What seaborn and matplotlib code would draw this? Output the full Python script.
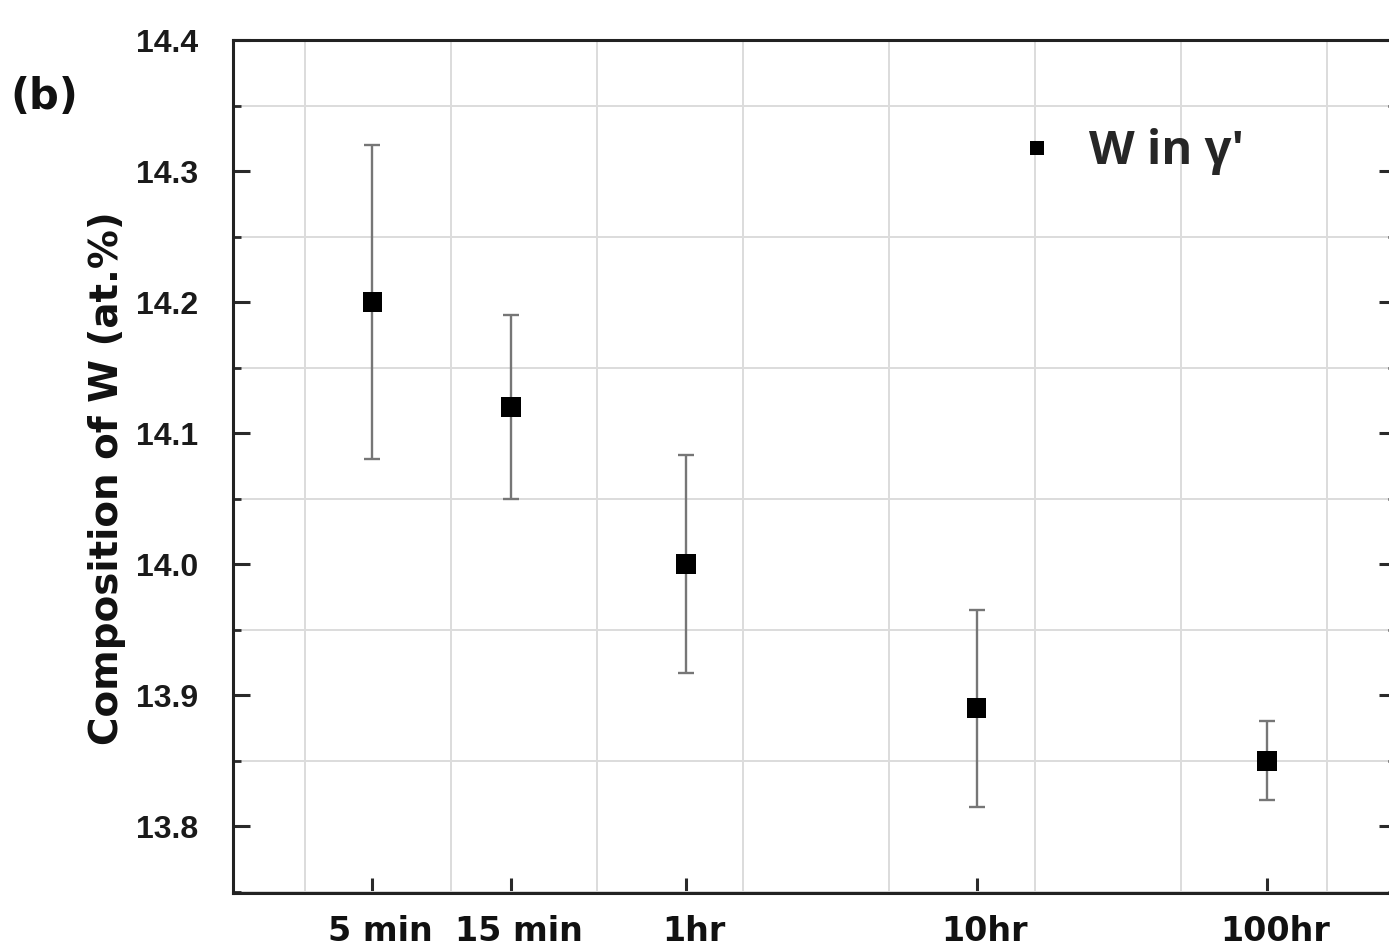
import numpy as np
import pandas as pd
import matplotlib
matplotlib.use("Agg")
import matplotlib.pyplot as plt
import matplotlib.transforms as mtrans
import seaborn as sns
from matplotlib.ticker import FixedLocator, MultipleLocator, NullFormatter

# ---- data ----
time_labels = ["5 min", "15 min", "1hr", "10hr", "100hr"]
time_minutes = [5, 15, 60, 600, 6000]
w_composition = [14.20, 14.12, 14.00, 13.89, 13.85]
w_error = [0.12, 0.07, 0.083, 0.075, 0.03]
y_tick_values = [13.8, 13.9, 14.0, 14.1, 14.2, 14.3, 14.4]
y_tick_labels = ["13.8", "13.9", "14.0", "14.1", "14.2", "14.3", "14.4"]
series_label = "W in \u03b3'"
y_label = "Composition of W (at.%)"
panel_label = "(b)"

df = pd.DataFrame({"time": time_minutes, "W": w_composition,
                   "err": w_error, "series": series_label})

sns.set_style("white")
plt.rcParams["font.family"] = ["Liberation Sans", "DejaVu Sans"]

W, H = 1389, 950
fig = plt.figure(figsize=(W / 100, H / 100), dpi=100)
right_px = 1396
ax = fig.add_axes([233 / W, 1 - 893 / H, (right_px - 233) / W, (893 - 40) / H])

ax.set_xscale("log")
px_per_dec = 290.5
ax.set_xlim(10 ** (np.log10(60) - (686 - 233) / px_per_dec),
            10 ** (np.log10(60) + (right_px - 686) / px_per_dec))
ax.set_ylim(13.749, 14.4)

# error bars + markers
ax.errorbar(df["time"], df["W"], yerr=df["err"], fmt="none",
            ecolor="#767676", elinewidth=1.7, capsize=6, capthick=1.7, zorder=2)
sns.scatterplot(data=df, x="time", y="W", hue="series", palette=["black"],
                marker="s", s=205, linewidth=0, ax=ax, zorder=3)

# ticks
ax.xaxis.set_major_locator(FixedLocator(time_minutes))
ax.set_xticklabels(time_labels)
ax.xaxis.set_minor_locator(FixedLocator(10 ** (0.4664 + 0.5025 * np.arange(8))))
ax.xaxis.set_minor_formatter(NullFormatter())
ax.yaxis.set_minor_locator(MultipleLocator(0.05))
ax.set_yticks(y_tick_values)
ax.set_yticklabels(y_tick_labels)

ax.tick_params(axis="x", which="major", direction="in", length=11, width=2.2,
               color="#2a2a2a", bottom=True, top=False, pad=16)
ax.tick_params(axis="x", which="minor", length=0, bottom=False, top=False)
ax.tick_params(axis="y", which="major", direction="in", length=12, width=2.2,
               color="#2a2a2a", left=True, right=True, pad=25)
ax.tick_params(axis="y", which="minor", direction="in", length=6, width=2.0,
               color="#2a2a2a", left=True, right=True)

offset = mtrans.ScaledTranslation(8 / 100, 0, fig.dpi_scale_trans)
for lab in ax.get_xticklabels():
    lab.set_fontfamily(["DejaVu Sans"])
    lab.set_fontweight("bold")
    lab.set_fontsize(24)
    lab.set_color("#111111")
    lab.set_transform(lab.get_transform() + offset)
for lab in ax.get_yticklabels():
    lab.set_fontfamily(["Liberation Sans", "DejaVu Sans"])
    lab.set_fontweight("bold")
    lab.set_fontsize(23)
    lab.set_color("#1a1a1a")

# grid only on minor positions
ax.grid(False, which="major")
ax.grid(True, which="minor", color="#dcdcdc", linewidth=1.4)
ax.set_axisbelow(True)

for side, sp in ax.spines.items():
    sp.set_color("#222222")
    sp.set_linewidth(2.2)

ax.set_xlabel("")
ax.set_ylabel(y_label, fontfamily=["DejaVu Sans"], fontweight="bold", fontsize=28,
              color="#111111")
ax.yaxis.set_label_coords((126 - 233) / (right_px - 233), (893 - 478) / 853)

leg = ax.legend(loc="center left",
                bbox_to_anchor=((1013 - 233) / (right_px - 233), (893 - 152) / 853),
                frameon=False, markerscale=0.7, handlelength=1.0, handletextpad=0.6,
                borderpad=0, borderaxespad=0,
                prop={"family": ["Open Sans", "DejaVu Sans"], "size": 34, "weight": "bold"})

fig.text(10 / W, 1 - 97 / H, panel_label, ha="left", va="center",
         fontfamily=["DejaVu Sans"], fontweight="bold", fontsize=30, color="#111111")

fig.savefig("out.png", dpi=100)
